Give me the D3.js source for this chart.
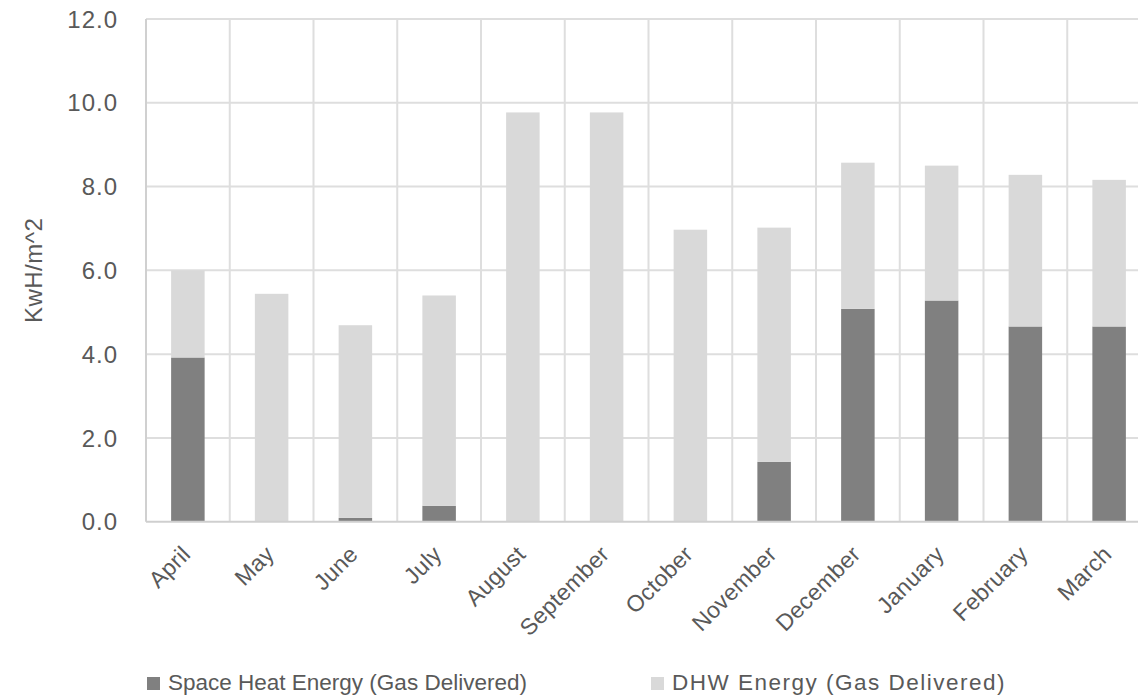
<!DOCTYPE html>
<html>
<head>
<meta charset="utf-8">
<script src="https://cdn.jsdelivr.net/npm/d3@7"></script>
<style>
  body { margin: 0; background: #fff; }
  svg text { font-family: "Liberation Sans", Arial, sans-serif; fill: #595959; }
</style>
</head>
<body>
<svg id="chart" width="1138" height="696"></svg>
<script>
// monthly values, KwH/m^2
var months = ["April","May","June","July","August","September","October","November","December","January","February","March"]
var spaceHeat = [3.92, 0, 0.09, 0.38, 0, 0, 0, 1.43, 5.08, 5.28, 4.66, 4.66]
var dhw = [2.08, 5.44, 4.60, 5.02, 9.77, 9.77, 6.97, 5.59, 3.49, 3.22, 3.62, 3.50]
var yTicks = [0, 2, 4, 6, 8, 10, 12]
var seriesNames = ["Space Heat Energy (Gas Delivered)", "DHW Energy (Gas Delivered)"]
var seriesColors = ["#808080", "#d9d9d9"]

function drawChart() {
    var rows = months.map((m, i) => ({month: m, space: spaceHeat[i], dhw: dhw[i]}))

    var plotLeft = 146, plotRight = 1151, plotTop = 19, plotBottom = 521.7

    var svg = d3.select("#chart")

    var x = d3.scaleBand().domain(months).range([plotLeft, plotRight]).paddingInner(0.6).paddingOuter(0.3)
    var y = d3.scaleLinear().domain([0, 12]).range([plotBottom, plotTop])

    // horizontal gridlines
    svg.append("g")
        .selectAll("line")
        .data(yTicks.slice(1))
        .enter()
        .append("line")
        .attr("x1", plotLeft)
        .attr("x2", plotRight)
        .attr("y1", d => y(d))
        .attr("y2", d => y(d))
        .style("stroke", "#dedede")
        .style("stroke-width", 2)

    // vertical gridlines between categories
    var step = x.step()
    svg.append("g")
        .selectAll("line")
        .data(d3.range(months.length + 1))
        .enter()
        .append("line")
        .attr("x1", i => plotLeft + i * step)
        .attr("x2", i => plotLeft + i * step)
        .attr("y1", plotTop)
        .attr("y2", plotBottom)
        .style("stroke", i => i == 0 ? "#d0d0d0" : "#dedede")
        .style("stroke-width", 2)

    // stacked bars
    var stack = d3.stack().keys(["space", "dhw"])
    svg.append("g")
        .selectAll("g")
        .data(stack(rows))
        .enter()
        .append("g")
        .style("fill", (d, i) => seriesColors[i])
        .selectAll("rect")
        .data(d => d)
        .enter()
        .append("rect")
        .attr("x", d => x(d.data.month))
        .attr("width", x.bandwidth())
        .attr("y", d => y(d[1]))
        .attr("height", d => y(d[0]) - y(d[1]))

    // bottom axis line
    svg.append("line")
        .attr("x1", plotLeft)
        .attr("x2", plotRight)
        .attr("y1", plotBottom)
        .attr("y2", plotBottom)
        .style("stroke", "#cfcfcf")
        .style("stroke-width", 2)

    // y tick labels
    svg.append("g")
        .selectAll("text")
        .data(yTicks)
        .enter()
        .append("text")
        .attr("x", 118)
        .attr("y", d => y(d))
        .attr("dy", "0.36em")
        .text(d => d.toFixed(1))
        .style("text-anchor", "end")
        .style("font-size", "24px")
        .style("letter-spacing", "1px")

    // y axis title
    svg.append("text")
        .attr("transform", "translate(42," + ((plotTop + plotBottom) / 2) + ") rotate(-90)")
        .text("KwH/m^2")
        .style("text-anchor", "middle")
        .style("font-size", "24px")
        .style("letter-spacing", "0.5px")

    // month labels
    svg.append("g")
        .selectAll("text")
        .data(months)
        .enter()
        .append("text")
        .attr("transform", d => "translate(" + (x(d) + x.bandwidth() / 2 + 4) + "," + (plotBottom + 34) + ") rotate(-45)")
        .text(d => d)
        .style("text-anchor", "end")
        .style("font-size", "23px")
        .style("letter-spacing", "0.3px")

    // legend
    var legendX = [147, 651]
    var legendSpacing = ["0px", "1.5px"]
    var legend = svg.append("g")
        .selectAll("g")
        .data(seriesNames)
        .enter()
        .append("g")
        .attr("transform", (d, i) => "translate(" + legendX[i] + ",677)")
    legend.append("rect")
        .attr("width", 13)
        .attr("height", 13)
        .style("fill", (d, i) => seriesColors[i])
    legend.append("text")
        .attr("x", 21)
        .attr("y", 13)
        .text(d => d)
        .style("font-size", "22.5px")
        .style("letter-spacing", (d, i) => legendSpacing[i])
}
drawChart()
</script>
</body>
</html>
